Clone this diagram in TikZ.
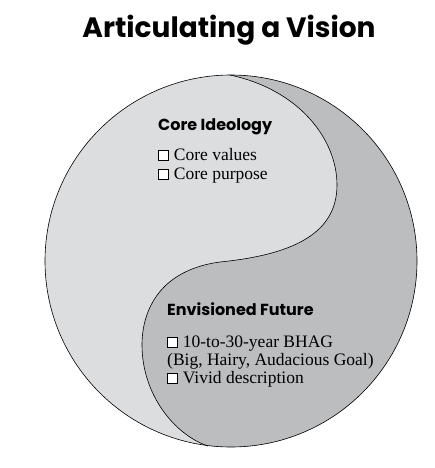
\documentclass[tikz,border=0pt]{standalone}
\usepackage{fontspec}
\setmainfont{Liberation Serif}
\newfontfamily\headfont{Poppins}
\usetikzlibrary{positioning}
\definecolor{lightzone}{RGB}{220,221,223}
\definecolor{darkzone}{RGB}{188,189,191}
\newcommand{\tickbox}{{\setlength{\fboxsep}{0pt}\setlength{\fboxrule}{0.6pt}%
  \fcolorbox{black}{white}{\rule{0pt}{9.5pt}\rule{9.5pt}{0pt}}}\hspace{5pt}}

\begin{document}
\begin{tikzpicture}[
  x=1pt, y=-1pt,
  title/.style   = {anchor=base, inner sep=0pt,
                    font=\headfont\bfseries\fontsize{28}{32}\selectfont},
  heading/.style = {anchor=base west, inner sep=0pt,
                    font=\headfont\bfseries\fontsize{16}{20}\selectfont},
  item/.style    = {anchor=base west, inner sep=0pt,
                    font=\fontsize{17.5}{19}\selectfont},
  rim/.style     = {line width=0.6pt},
]
  \useasboundingbox[fill=white] (0,0) rectangle (434,468);

  % Title
  \node[title] (head) at (229,38) {Articulating a Vision};

  % Circle
  \node[circle, minimum size=372pt, inner sep=0pt, fill=lightzone] (vision) at (231,261) {};

  % S-curve points
  \coordinate (top) at (230,75);
  \coordinate (rb)  at (337,185);
  \coordinate (mid) at (220,262);
  \coordinate (lb)  at (142,345);
  \coordinate (bot) at (208,446);

  % Dark half
  \begin{scope}
    \clip (vision.center) circle[radius=186pt];
    \fill[darkzone] (top) .. controls (300,90) and (337,140) .. (rb)
      .. controls (337,235) and (290,255) .. (mid)
      .. controls (160,270) and (142,310) .. (lb)
      .. controls (142,395) and (175,435) .. (bot)
      -- (208,475) -- (445,475) -- (445,60) -- (230,60) -- cycle;
  \end{scope}
  \draw[rim] (top) .. controls (300,90) and (337,140) .. (rb)
      .. controls (337,235) and (290,255) .. (mid)
      .. controls (160,270) and (142,310) .. (lb)
      .. controls (142,395) and (175,435) .. (bot);
  \draw[rim] (vision.center) circle[radius=186pt];

  % Core Ideology
  \node[heading] (ideo) at (158,131) {Core Ideology};
  \node[item] (values)  at (158,160) {\tickbox Core values};
  \node[item] (purpose) at (158,179) {\tickbox Core purpose};

  % Envisioned Future
  \node[heading] (future) at (167,315) {Envisioned Future};
  \node[item] (bhag)  at (167,347) {\tickbox 10-to-30-year BHAG};
  \node[item] (big)   at (167,365) {(Big, Hairy, Audacious Goal)};
  \node[item] (vivid) at (167,383) {\tickbox Vivid description};
\end{tikzpicture}
\end{document}
